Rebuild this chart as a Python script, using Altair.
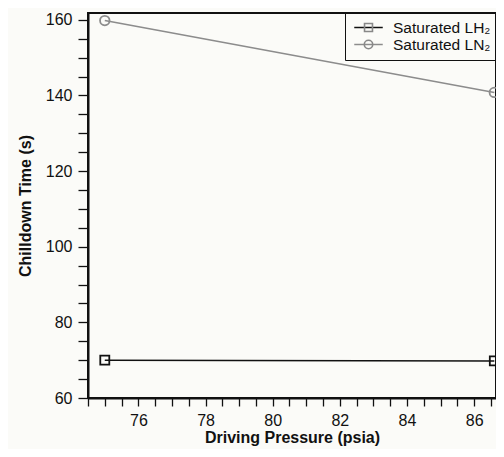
import altair as alt
import pandas as pd

series = ["Saturated LH₂", "Saturated LN₂"]
pressure_lh2 = [75.0, 86.6]
time_lh2 = [70.0, 69.8]
pressure_ln2 = [75.0, 86.6]
time_ln2 = [159.8, 140.8]

colors = ["#111111", "#8c8c8c"]

df = pd.DataFrame({
    "pressure": pressure_lh2 + pressure_ln2,
    "time": time_lh2 + time_ln2,
    "series": [series[0]] * len(pressure_lh2) + [series[1]] * len(pressure_ln2),
})
df["marker"] = df["series"]

x_ticks = [74.5 + 0.5 * i for i in range(25)]
y_ticks = [60 + 5 * i for i in range(21)]

FONT = "Liberation Sans"
LX, LY = 257, -1

# marker shapes as paths (unit box), shared by plot markers and legend symbols
SQUARE = "M-0.53,-0.53H0.53V0.53H-0.53Z"
CIRCLE = "M-0.56,0A0.56,0.56,0,1,0,0.56,0A0.56,0.56,0,1,0,-0.56,0Z"
LINE = "M-1.9,0H1.9"

x = alt.X("pressure:Q",
          scale=alt.Scale(domain=[74.5, 86.65], nice=False, zero=False),
          axis=alt.Axis(values=x_ticks,
                        labelExpr="datum.value % 2 == 0 ? format(datum.value, 'd') : ''",
                        title="Driving Pressure (psia)", grid=False, tickSize=8,
                        labelOverlap=False, labelFlush=False, labelPadding=6, titlePadding=1))
y = alt.Y("time:Q",
          scale=alt.Scale(domain=[60, 161.8], nice=False, zero=False),
          axis=alt.Axis(values=y_ticks,
                        labelExpr="datum.value % 20 == 0 ? format(datum.value, 'd') : ''",
                        title="Chilldown Time (s)", grid=False, tickSize=10,
                        labelOverlap=False, labelFlush=False, labelPadding=6, titlePadding=12))

common_legend = dict(title=None, orient="none", legendX=LX, legendY=LY,
                     symbolSize=225, labelFontSize=15.5, labelFont=FONT,
                     padding=7, rowPadding=-1, labelOffset=16, symbolOffset=8,
                     labelLimit=300)

line_color = alt.Color("series:N", scale=alt.Scale(domain=series, range=colors),
                       legend=alt.Legend(symbolType=LINE, symbolStrokeWidth=1.5,
                                         labelColor="#111", strokeColor="#111",
                                         zindex=0, **common_legend))

marker_legend = alt.Legend(symbolStrokeWidth=1.6, labelOpacity=0, zindex=1, **common_legend)
marker_color = alt.Color("marker:N", scale=alt.Scale(range=colors), legend=None)
marker_shape = alt.Shape("marker:N", scale=alt.Scale(range=[SQUARE, CIRCLE]), legend=marker_legend)

lines = alt.Chart(df).mark_line(strokeWidth=1.5, clip=True).encode(x=x, y=y, color=line_color)
points = alt.Chart(df).mark_point(filled=False, strokeWidth=1.8, size=289, clip=True, opacity=1).encode(
    x=x, y=y, color=marker_color, shape=marker_shape,
)

chart = alt.layer(lines, points).resolve_scale(color="independent").properties(
    width=408, height=385, background="#fbfbf8",
    padding={"left": 80, "top": 5, "right": 0, "bottom": 51},
    autosize=alt.AutoSizeParams(type="none"),
).configure_view(stroke="#111", strokeWidth=2).configure_axis(
    labelFont=FONT, titleFont=FONT, labelFontSize=16, titleFontSize=16,
    titleFontWeight="bold", labelColor="#111", titleColor="#111",
    domainColor="#111", domainWidth=2, tickColor="#111", tickWidth=1.3,
)

chart.save("out.html", embed_options={"renderer": "svg", "actions": False})
